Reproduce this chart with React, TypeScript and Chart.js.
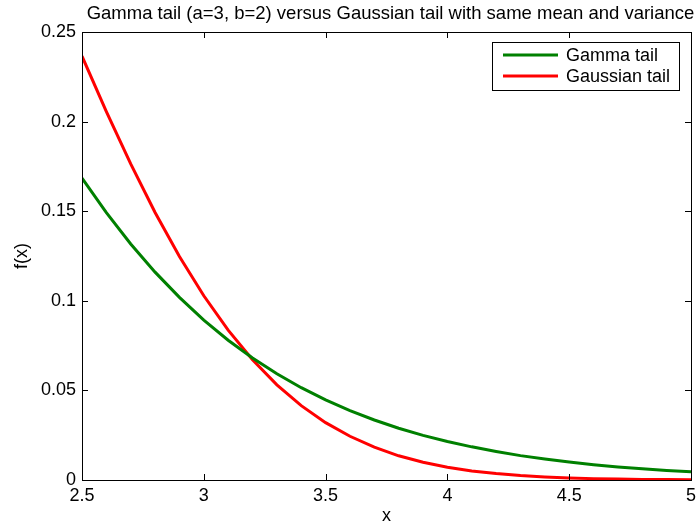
import React, { useEffect, useRef } from "react";
import { Chart, registerables } from "chart.js";

Chart.register(...registerables);

const xValues = [2.5, 2.6, 2.7, 2.8, 2.9, 3.0, 3.1, 3.2, 3.3, 3.4, 3.5, 3.6, 3.7, 3.8, 3.9, 4.0, 4.1, 4.2, 4.3, 4.4, 4.5, 4.6, 4.7, 4.8, 4.9, 5.0];
const gammaTail = [0.1684, 0.1492, 0.1317, 0.1160, 0.1019, 0.0892, 0.0780, 0.0681, 0.0593, 0.0515, 0.0447, 0.0387, 0.0335, 0.0289, 0.0249, 0.0215, 0.0185, 0.0159, 0.0136, 0.0117, 0.0100, 0.00855, 0.00731, 0.00624, 0.00533, 0.00454];
const gaussianTail = [0.2365, 0.2056, 0.1764, 0.1493, 0.1247, 0.1028, 0.0836, 0.0671, 0.0531, 0.0415, 0.0320, 0.0244, 0.0183, 0.0135, 0.0099, 0.00714, 0.00508, 0.00357, 0.00247, 0.00169, 0.00114, 0.00076, 0.00050, 0.00032, 0.00021, 0.00013];
const xTicks = [2.5, 3, 3.5, 4, 4.5, 5];
const yTicks = [0, 0.05, 0.1, 0.15, 0.2, 0.25];
const seriesLabels = ["Gamma tail", "Gaussian tail"];
const seriesColors = ["#008000", "#ff0000"];
const titleText = "Gamma tail (a=3, b=2) versus Gaussian tail with same mean and variance";

const FONT = '"Liberation Sans", Arial, Helvetica, sans-serif';
const FS = 18;

const framePlugin = {
  id: "frame",
  afterDraw(chart: any) {
    const { ctx, chartArea: a } = chart;
    const xs = chart.scales.x;
    const ys = chart.scales.y;
    ctx.save();
    ctx.strokeStyle = "#000";
    ctx.lineWidth = 1;
    ctx.strokeRect(a.left + 0.5, a.top + 0.5, a.right - a.left, a.bottom - a.top);
    const tl = 6;
    ctx.beginPath();
    for (const v of xTicks) {
      const px = Math.round(xs.getPixelForValue(v)) + 0.5;
      ctx.moveTo(px, a.bottom);
      ctx.lineTo(px, a.bottom - tl);
      ctx.moveTo(px, a.top);
      ctx.lineTo(px, a.top + tl);
    }
    for (const v of yTicks) {
      const py = Math.round(ys.getPixelForValue(v)) + 0.5;
      ctx.moveTo(a.left, py);
      ctx.lineTo(a.left + tl, py);
      ctx.moveTo(a.right, py);
      ctx.lineTo(a.right - tl, py);
    }
    ctx.stroke();

    // title and axis labels
    ctx.fillStyle = "#000";
    ctx.textAlign = "center";
    ctx.textBaseline = "middle";
    ctx.font = `18.5px ${FONT}`;
    ctx.fillText(titleText, (a.left + a.right) / 2 + 4, a.top - 18);
    ctx.font = `${FS}px ${FONT}`;
    ctx.fillText("x", (a.left + a.right) / 2, a.bottom + 36);
    ctx.save();
    ctx.translate(22, (a.top + a.bottom) / 2);
    ctx.rotate(-Math.PI / 2);
    ctx.fillText("f(x)", 0, 0);
    ctx.restore();

    // legend box
    const lw = 187;
    const lh = 48;
    const lx = a.right - 12 - lw;
    const ly = a.top + 10;
    ctx.fillStyle = "#fff";
    ctx.fillRect(lx, ly, lw, lh);
    ctx.strokeRect(lx + 0.5, ly + 0.5, lw, lh);
    ctx.textAlign = "left";
    seriesLabels.forEach((lab, i) => {
      const cy = ly + 13 + i * 21;
      ctx.strokeStyle = seriesColors[i];
      ctx.lineWidth = 3;
      ctx.beginPath();
      ctx.moveTo(lx + 11, cy);
      ctx.lineTo(lx + 66, cy);
      ctx.stroke();
      ctx.fillStyle = "#000";
      ctx.fillText(lab, lx + 74, cy + 1);
    });
    ctx.restore();
  },
};

export default function App() {
  const ref = useRef<HTMLCanvasElement | null>(null);

  useEffect(() => {
    if (!ref.current) return;
    const chart = new Chart(ref.current, {
      type: "line",
      data: {
        datasets: [gammaTail, gaussianTail].map((vals, i) => ({
          label: seriesLabels[i],
          data: xValues.map((x, j) => ({ x, y: vals[j] })),
          borderColor: seriesColors[i],
          borderWidth: 3,
          pointRadius: 0,
          tension: 0,
          fill: false,
        })),
      },
      options: {
        responsive: false,
        animation: false,
        layout: { padding: { top: 32, right: 7, left: 0, bottom: 0 } },
        plugins: {
          legend: { display: false },
          title: { display: false },
          tooltip: { enabled: false },
        },
        scales: {
          x: {
            type: "linear",
            min: 2.5,
            max: 5,
            afterBuildTicks: (s: any) => {
              s.ticks = xTicks.map((v) => ({ value: v }));
            },
            afterFit: (s: any) => {
              s.height = 41;
              s.paddingLeft = 0;
              s.paddingRight = 0;
            },
            grid: { display: false, drawTicks: false },
            border: { display: false },
            ticks: {
              color: "#000",
              font: { family: FONT, size: FS },
              padding: 5,
              maxRotation: 0,
              callback: (v: any) => String(v),
            },
          },
          y: {
            type: "linear",
            min: 0,
            max: 0.25,
            afterBuildTicks: (s: any) => {
              s.ticks = yTicks.map((v) => ({ value: v }));
            },
            afterFit: (s: any) => {
              s.width = 82;
              s.paddingTop = 0;
              s.paddingBottom = 0;
            },
            grid: { display: false, drawTicks: false },
            border: { display: false },
            ticks: {
              color: "#000",
              font: { family: FONT, size: FS },
              padding: 6,
              callback: (v: any) => String(Math.round(v * 100) / 100),
            },
          },
        },
      },
      plugins: [framePlugin],
    });
    return () => chart.destroy();
  }, []);

  return (
    <div style={{ position: "fixed", left: 0, top: 0, width: 698, height: 521, background: "#fff" }}>
      <canvas ref={ref} width={698} height={521} style={{ display: "block" }} />
    </div>
  );
}
